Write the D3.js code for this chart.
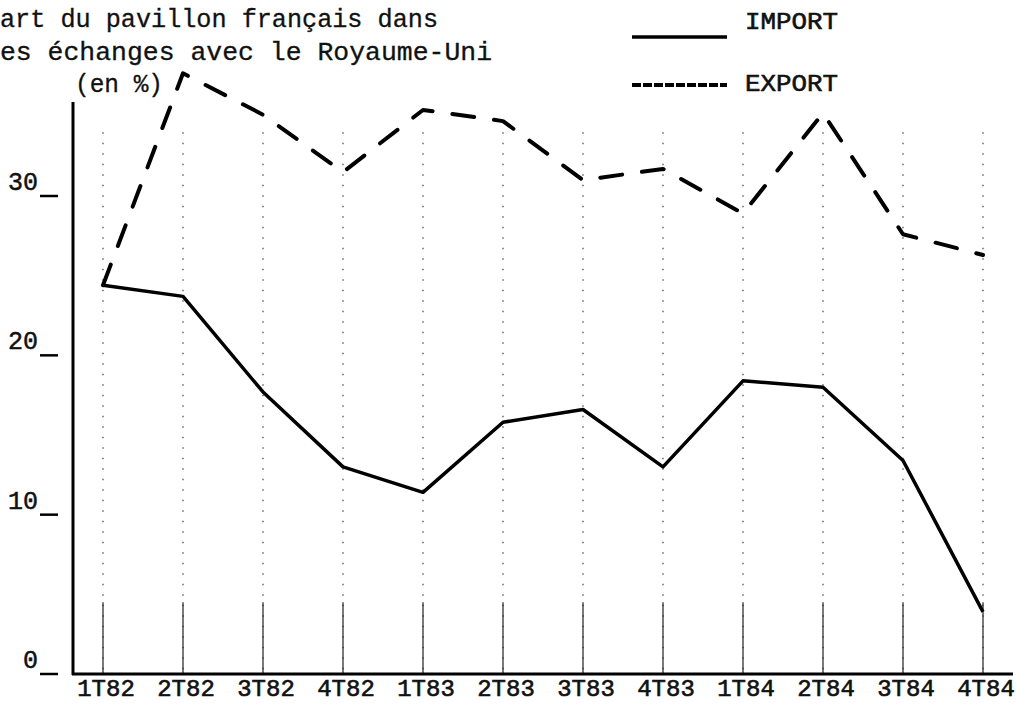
<!DOCTYPE html>
<html>
<head>
<meta charset="utf-8">
<script src="https://cdn.jsdelivr.net/npm/d3@7"></script>
<style>
  body { margin: 0; background: #fff; }
  svg { display: block; }
  text { font-family: "Liberation Mono", "DejaVu Sans Mono", monospace; fill: #111; }
</style>
</head>
<body>
<div id="chart"></div>
<script>
// quarters of 1982-1984
var quarters = ['1T82', '2T82', '3T82', '4T82', '1T83', '2T83', '3T83', '4T83', '1T84', '2T84', '3T84', '4T84'];
// share of the French flag, in %
var importValues = [24.4, 23.7, 17.7, 13.0, 11.4, 15.8, 16.6, 13.0, 18.4, 18.0, 13.4, 3.9];
var exportValues = [24.4, 37.7, 35.1, 31.5, 35.4, 34.7, 31.0, 31.7, 28.9, 35.2, 27.6, 26.3];
var yTicks = [0, 10, 20, 30];
var titleLines = ['art du pavillon français dans', 'es échanges avec le Royaume-Uni'];
var unitLabel = '(en %)';
var seriesNames = ['IMPORT', 'EXPORT'];

var width = 1016, height = 705;

var svg = d3.select('#chart')
  .append('svg')
  .attr('width', width)
  .attr('height', height);

var x = d3.scalePoint()
  .domain(quarters)
  .range([103, 983]);

var y = d3.scaleLinear()
  .domain([0, 30])
  .range([674, 196]);

var axisX = 73;

// title
svg.selectAll('text.title')
  .data(titleLines)
  .enter()
  .append('text')
  .attr('class', 'title')
  .attr('x', 0)
  .attr('y', function(d, i) { return 27 + i * 33; })
  .attr('textLength', function(d, i) { return i === 0 ? 438 : 492; })
  .attr('lengthAdjust', 'spacingAndGlyphs')
  .style('font-size', '25px')
  .style('stroke', '#111')
  .style('stroke-width', 0.3)
  .text(function(d) { return d; });

svg.append('text')
  .attr('x', 75)
  .attr('y', 92)
  .attr('textLength', 88)
  .attr('lengthAdjust', 'spacingAndGlyphs')
  .style('font-size', '25px')
  .style('stroke', '#111')
  .style('stroke-width', 0.3)
  .text(unitLabel);

// vertical dotted guides
var grid = svg.append('g');
grid.selectAll('line.dots')
  .data(quarters)
  .enter()
  .append('line')
  .attr('x1', function(d) { return x(d); })
  .attr('x2', function(d) { return x(d); })
  .attr('y1', y(34))
  .attr('y2', y(0))
  .attr('stroke', '#444')
  .attr('stroke-width', 1.2)
  .attr('stroke-dasharray', '1.5,9');

grid.selectAll('line.solid')
  .data(quarters)
  .enter()
  .append('line')
  .attr('x1', function(d) { return x(d); })
  .attr('x2', function(d) { return x(d); })
  .attr('y1', y(4.5))
  .attr('y2', y(0))
  .attr('stroke', '#222')
  .attr('stroke-width', 1.2);

// axes
svg.append('line')
  .attr('x1', axisX).attr('x2', axisX)
  .attr('y1', 102).attr('y2', y(0) + 1)
  .attr('stroke', '#000')
  .attr('stroke-width', 3);

svg.append('line')
  .attr('x1', axisX - 1).attr('x2', 1013)
  .attr('y1', y(0)).attr('y2', y(0))
  .attr('stroke', '#000')
  .attr('stroke-width', 3);

var yt = svg.append('g').selectAll('g')
  .data(yTicks)
  .enter()
  .append('g');

yt.append('line')
  .attr('x1', 40)
  .attr('x2', 58)
  .attr('y1', function(d) { return y(d); })
  .attr('y2', function(d) { return y(d); })
  .attr('stroke', '#000')
  .attr('stroke-width', 2.5);

yt.append('text')
  .attr('x', 38)
  .attr('y', function(d) { return y(d) - 6; })
  .attr('text-anchor', 'end')
  .style('font-size', '25px')
  .style('stroke', '#111')
  .style('stroke-width', 0.5)
  .text(function(d) { return d; });

svg.append('g').selectAll('text')
  .data(quarters)
  .enter()
  .append('text')
  .attr('x', function(d) { return x(d) + 3; })
  .attr('y', 696)
  .attr('text-anchor', 'middle')
  .style('font-size', '24px')
  .style('stroke', '#111')
  .style('stroke-width', 0.6)
  .text(function(d) { return d; });

// series
var line = d3.line()
  .x(function(d, i) { return x(quarters[i]); })
  .y(function(d) { return y(d); });

svg.append('path')
  .datum(importValues)
  .attr('d', line)
  .attr('fill', 'none')
  .attr('stroke', '#000')
  .attr('stroke-width', 3.5)
  .attr('stroke-linejoin', 'round');

svg.append('path')
  .datum(exportValues)
  .attr('d', line)
  .attr('fill', 'none')
  .attr('stroke', '#000')
  .attr('stroke-width', 4)
  .attr('stroke-linecap', 'round')
  .attr('stroke-linejoin', 'round')
  .attr('stroke-dasharray', '22,20');

// legend
var legend = svg.append('g').selectAll('g')
  .data(seriesNames)
  .enter()
  .append('g');

legend.append('line')
  .attr('x1', 632)
  .attr('x2', 727)
  .attr('y1', function(d, i) { return i === 0 ? 37 : 85; })
  .attr('y2', function(d, i) { return i === 0 ? 37 : 85; })
  .attr('stroke', '#000')
  .attr('stroke-width', function(d, i) { return i === 0 ? 3.5 : 4; })
  .attr('stroke-dasharray', function(d, i) { return i === 0 ? null : '9,2'; });

legend.append('text')
  .attr('x', 745)
  .attr('y', function(d, i) { return i === 0 ? 29 : 91; })
  .attr('textLength', 93)
  .attr('lengthAdjust', 'spacingAndGlyphs')
  .style('font-size', '24px')
  .style('stroke', '#111')
  .style('stroke-width', 0.6)
  .text(function(d) { return d; });
</script>
</body>
</html>
